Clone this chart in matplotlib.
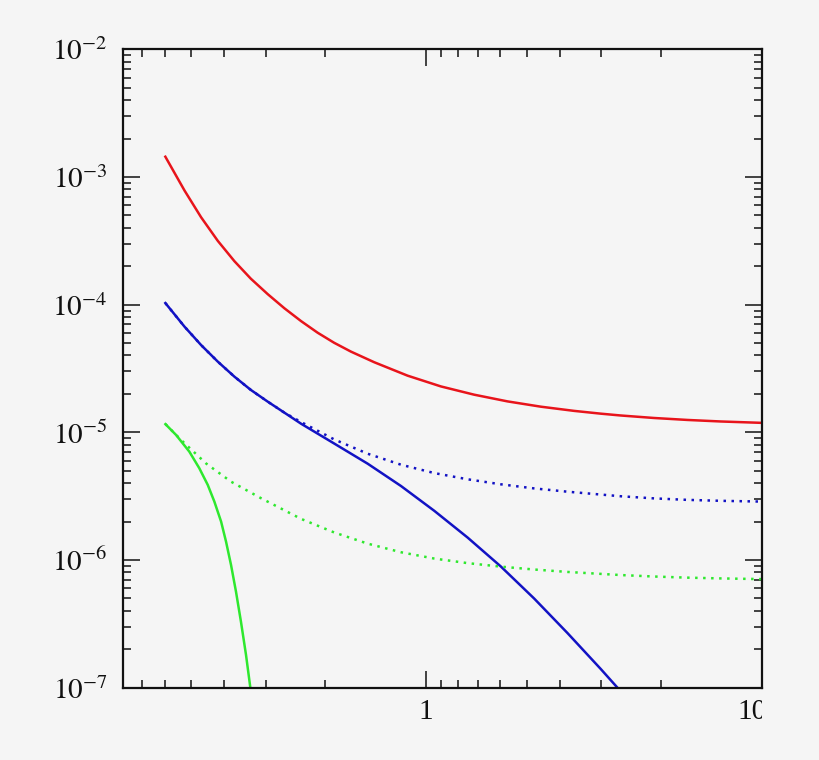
import numpy as np
import matplotlib
matplotlib.use('Agg')
import matplotlib.pyplot as plt
from matplotlib.ticker import FixedLocator, FuncFormatter, NullFormatter
from matplotlib.transforms import Bbox, TransformedBbox, ScaledTranslation

# curves (x, y)
red_x = [0.1675, 0.191, 0.214, 0.240, 0.269, 0.301, 0.338, 0.379, 0.425, 0.476, 0.533,
         0.598, 0.702, 0.882, 1.108, 1.392, 1.750, 2.199, 2.763, 3.318, 3.80, 4.78, 6.01,
         7.55, 10.0]
red_y = [1.442e-3, 7.84e-4, 4.84e-4, 3.16e-4, 2.19e-4, 1.598e-4, 1.209e-4, 9.37e-5,
         7.43e-5, 6.03e-5, 5.03e-5, 4.29e-5, 3.54e-5, 2.78e-5, 2.29e-5, 1.973e-5, 1.748e-5,
         1.589e-5, 1.473e-5, 1.401e-5, 1.356e-5, 1.296e-5, 1.251e-5, 1.217e-5, 1.187e-5]

blue_x = [0.1675, 0.191, 0.214, 0.240, 0.269, 0.301, 0.338, 0.379, 0.425, 0.533, 0.671,
          0.843, 1.059, 1.331, 1.671, 2.10, 2.64, 3.318, 3.72]
blue_y = [1.03e-4, 6.73e-5, 4.83e-5, 3.58e-5, 2.73e-5, 2.15e-5, 1.74e-5, 1.426e-5, 1.168e-5,
          8.18e-6, 5.68e-6, 3.80e-6, 2.43e-6, 1.50e-6, 8.91e-7, 5.00e-7, 2.68e-7, 1.40e-7,
          1.0e-7]

bluedot_x = [0.1675, 0.191, 0.214, 0.240, 0.269, 0.301, 0.338, 0.379, 0.425, 0.533, 0.671,
             0.843, 1.059, 1.331, 1.671, 2.10, 2.64, 3.80, 4.78, 6.01, 7.55, 10.0]
bluedot_y = [1.03e-4, 6.73e-5, 4.83e-5, 3.58e-5, 2.73e-5, 2.15e-5, 1.74e-5, 1.426e-5,
             1.204e-5, 8.81e-6, 6.80e-6, 5.58e-6, 4.80e-6, 4.29e-6, 3.92e-6, 3.64e-6,
             3.43e-6, 3.16e-6, 3.04e-6, 2.96e-6, 2.91e-6, 2.87e-6]

green_x = [0.1676, 0.1803, 0.1974, 0.2114, 0.2240, 0.2344, 0.2455, 0.2540, 0.2628, 0.2719,
           0.2813, 0.2912, 0.3000]
green_y = [1.16e-5, 9.54e-6, 7.07e-6, 5.24e-6, 3.88e-6, 2.87e-6, 2.00e-6, 1.39e-6, 9.15e-7,
           5.65e-7, 3.29e-7, 1.81e-7, 1.0e-7]

greendot_x = [0.1675, 0.1866, 0.2214, 0.2628, 0.3228, 0.425, 0.533, 0.671, 0.843, 1.059,
              1.331, 1.671, 2.10, 2.64, 3.80, 4.78, 6.01, 7.55, 10.0]
greendot_y = [1.163e-5, 8.72e-6, 5.71e-6, 4.11e-6, 3.05e-6, 2.10e-6, 1.645e-6, 1.344e-6,
              1.151e-6, 1.027e-6, 9.46e-7, 8.88e-7, 8.43e-7, 8.07e-7, 7.63e-7, 7.43e-7,
              7.28e-7, 7.18e-7, 7.09e-7]

# odd minor ticks on x: 1/k and 10/k
x_major = [1, 10]
x_minor = [1 / k for k in range(2, 8)] + [10 / k for k in range(2, 10)]
y_major = [10.0 ** e for e in range(-7, -1)]
y_minor = [k * 10.0 ** e for e in range(-7, -2) for k in range(2, 10)]

plt.rcParams['font.family'] = ['Liberation Serif', 'DejaVu Serif']
plt.rcParams['mathtext.fontset'] = 'stix'

bg = '#f5f5f5'
fig = plt.figure(figsize=(8.2, 7.6), dpi=100, facecolor=bg)
ax = fig.add_axes([0.1496, 0.0951, 0.7793, 0.84], facecolor=bg)

dots = (0, (1, 2.2))
ax.plot(red_x, red_y, color='#e8141b', lw=1.8)
ax.plot(bluedot_x, bluedot_y, color='#1212c4', lw=1.8, linestyle=dots)
ax.plot(blue_x, blue_y, color='#1212c4', lw=1.8)
ax.plot(greendot_x, greendot_y, color='#2ee82e', lw=1.8, linestyle=dots)
ax.plot(green_x, green_y, color='#2ee82e', lw=1.8)

ax.set_xscale('log')
ax.set_yscale('log')
ax.set_xlim(0.125, 10)
ax.set_ylim(1e-7, 1e-2)

ax.xaxis.set_major_locator(FixedLocator(x_major))
ax.xaxis.set_minor_locator(FixedLocator(x_minor))
ax.yaxis.set_major_locator(FixedLocator(y_major))
ax.yaxis.set_minor_locator(FixedLocator(y_minor))
ax.xaxis.set_major_formatter(FuncFormatter(lambda v, p: '%d' % round(v)))
ax.xaxis.set_minor_formatter(NullFormatter())
ax.yaxis.set_major_formatter(FuncFormatter(lambda v, p: r'$10^{%d}$' % round(np.log10(v))))
ax.yaxis.set_minor_formatter(NullFormatter())

ax.tick_params(which='both', direction='in', top=True, right=True, colors='#111111',
               labelsize=21)
ax.tick_params(axis='y', pad=11)
ax.tick_params(axis='x', pad=8)
ax.tick_params(which='major', length=12.5, width=1.1)
ax.tick_params(which='minor', length=6, width=1.1)
for s in ax.spines.values():
    s.set_linewidth(1.6)
    s.set_color('#111111')

# the "10" label sits a bit left and is cut at the right edge of the frame
clip = TransformedBbox(Bbox([[0, -1], [1, 2]]), ax.transAxes)
xt = ax.xaxis.get_major_ticks()
for t in xt:
    t.label1.set_clip_on(True)
    t.label1.set_clip_box(clip)
xt[1].label1.set_transform(xt[1].label1.get_transform()
                           + ScaledTranslation(-0.095, 0, fig.dpi_scale_trans))

fig.savefig('out.png', dpi=100, facecolor=bg)
